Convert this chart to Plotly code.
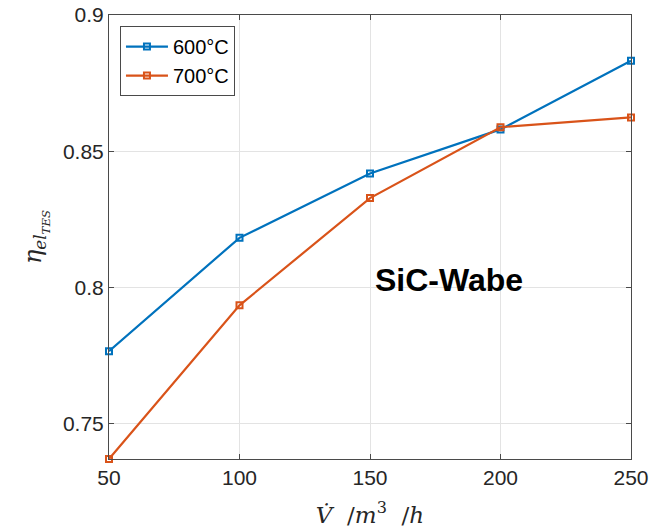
import plotly.graph_objects as go

flow = [50, 100, 150, 200, 250]
eta_600 = [0.7766, 0.8182, 0.8418, 0.8580, 0.8832]
eta_700 = [0.7370, 0.7934, 0.8328, 0.8588, 0.8624]
series_names = ["600°C", "700°C"]
x_ticks = [50, 100, 150, 200, 250]
y_ticks = [0.75, 0.8, 0.85, 0.9]
y_tick_labels = ["0.75", "0.8", "0.85", "0.9"]

blue = "#0072BD"
orange = "#D95319"
axis_col = "#4a4a4a"
grid_col = "#e3e3e3"
font_fam = "Liberation Sans, Arial, sans-serif"

fig = go.Figure()
for name, ys, col in [(series_names[0], eta_600, blue), (series_names[1], eta_700, orange)]:
    fig.add_trace(go.Scatter(
        x=flow, y=ys, name=name, mode="lines+markers",
        line=dict(color=col, width=2.2),
        marker=dict(symbol="square-open", size=6, color=col, line=dict(width=2, color=col)),
        cliponaxis=False,
    ))

fig.add_annotation(x=200, y=0.8, xref="x", yref="y", text="<b>SiC-Wabe</b>",
                   showarrow=False, font=dict(family=font_fam, size=32, color="#000000"),
                   xanchor="right", yanchor="middle", xshift=24, yshift=7)

axis_common = dict(showline=True, linecolor=axis_col, linewidth=1, mirror="ticks",
                   ticks="inside", ticklen=5, tickcolor=axis_col, automargin=False,
                   ticklabeloverflow="allow",
                   showgrid=True, gridcolor=grid_col, gridwidth=1, zeroline=False,
                   tickfont=dict(family=font_fam, size=21, color="#262626"))

fig.update_layout(
    width=662, height=531,
    margin=dict(l=109, r=31, t=15, b=72),
    paper_bgcolor="white", plot_bgcolor="white",
    showlegend=True,
    legend=dict(x=0.021, y=0.975, xanchor="left", yanchor="top",
                bgcolor="white", bordercolor=axis_col, borderwidth=1,
                font=dict(family=font_fam, size=20, color="#000000"),
                itemwidth=42, tracegroupgap=0),
    xaxis=dict(range=[50, 250], tickvals=x_ticks,
               title=dict(text="<i>V̇</i>  /<i>m</i><sup>3</sup>  /<i>h</i>",
                          font=dict(family="DejaVu Serif, serif", size=23, color="#262626"),
                          standoff=18),
               **axis_common),
    yaxis=dict(range=[0.737, 0.9], tickvals=y_ticks, ticktext=y_tick_labels,
               title=dict(text="<i>η</i><sub><i>el</i><sub><i>TES</i></sub></sub>",
                          font=dict(family="DejaVu Serif, serif", size=24, color="#262626"),
                          standoff=14),
               **axis_common),
)

fig.write_html("out.html", config={"displayModeBar": False},
               post_script="document.body.style.margin='0';")
